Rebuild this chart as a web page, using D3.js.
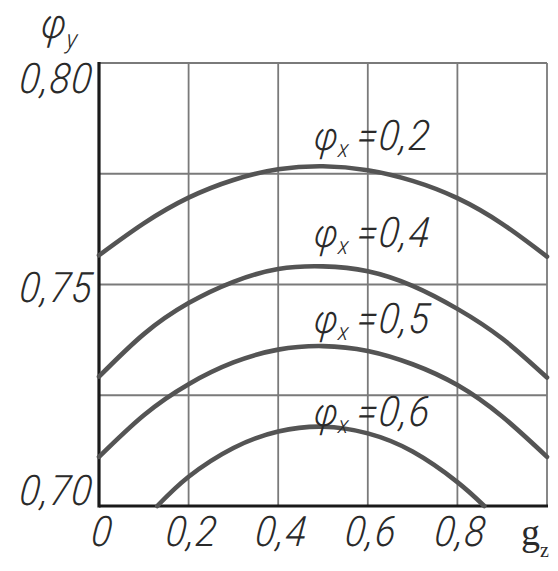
<!DOCTYPE html>
<html>
<head>
<meta charset="utf-8">
<script src="https://cdn.jsdelivr.net/npm/d3@7"></script>
<style>
  html, body { margin: 0; padding: 0; background: #fff; }
  svg { display: block; }
  .lbl { font-family: Roboto, "Liberation Sans Narrow", sans-serif; font-weight: 300; font-style: italic; fill: #2a2a2a; }
</style>
</head>
<body>
<svg id="chart" width="558" height="571"></svg>
<script>
// Relative load g (x axis)
const gValues = [0, 0.1, 0.2, 0.3, 0.4, 0.5, 0.6, 0.7, 0.8, 0.9, 1.0];
// phi_y for each phi_x
const phiX02 = [0.7566, 0.7638, 0.7696, 0.7736, 0.7760, 0.7767, 0.7758, 0.7734, 0.7695, 0.7637, 0.7563];
const phiX04 = [0.7292, 0.7388, 0.7458, 0.7506, 0.7535, 0.7541, 0.7530, 0.7497, 0.7445, 0.7378, 0.7290];
const phiX05 = [0.7111, 0.7205, 0.7275, 0.7324, 0.7353, 0.7361, 0.7350, 0.7320, 0.7273, 0.7202, 0.7111];
const gValues06 = [0.13, 0.2, 0.3, 0.4, 0.5, 0.6, 0.7, 0.8, 0.86];
const phiX06 = [0.700, 0.7066, 0.7131, 0.7168, 0.7179, 0.7164, 0.7123, 0.7054, 0.700];
const seriesNames = ["0,2", "0,4", "0,5", "0,6"];
const xTicks = [0, 0.2, 0.4, 0.6, 0.8];
const xTickLabels = ["0", "0,2", "0,4", "0,6", "0,8"];
const yTicks = [0.70, 0.75, 0.80];
const yTickLabels = ["0,70", "0,75", "0,80"];

const svg = d3.select("#chart");
const x = d3.scaleLinear().domain([0, 1]).range([99, 547]);
const y = d3.scaleLinear().domain([0.70, 0.80]).range([506, 63]);

// grid
const grid = svg.append("g").attr("stroke", "#7a7a7a").attr("stroke-width", 1.8);
grid.selectAll("line.v").data(d3.range(0.2, 1.01, 0.2)).join("line")
  .attr("x1", d => x(d)).attr("x2", d => x(d))
  .attr("y1", y(0.80)).attr("y2", y(0.70));
grid.selectAll("line.h").data([0.725, 0.75, 0.775, 0.80]).join("line")
  .attr("x1", x(0)).attr("x2", x(1))
  .attr("y1", d => y(d)).attr("y2", d => y(d));

// axes (thick lines)
svg.append("line").attr("x1", x(0)).attr("x2", x(0)).attr("y1", y(0.80) - 1).attr("y2", y(0.70) + 1.5)
  .attr("stroke", "#1a1a1a").attr("stroke-width", 3.2);
svg.append("line").attr("x1", x(0)).attr("x2", x(1) + 1).attr("y1", y(0.70)).attr("y2", y(0.70))
  .attr("stroke", "#1a1a1a").attr("stroke-width", 3.2);

// curves
const line = d3.line().x(d => x(d[0])).y(d => y(d[1])).curve(d3.curveNatural);
const series = [
  d3.zip(gValues, phiX02),
  d3.zip(gValues, phiX04),
  d3.zip(gValues, phiX05),
  d3.zip(gValues06, phiX06)
];
svg.append("g").selectAll("path").data(series).join("path")
  .attr("d", line).attr("fill", "none")
  .attr("stroke", "#545454").attr("stroke-width", 4.6).attr("stroke-linecap", "round");

// text helper: condensed slanted lettering
function label(txt, px, py, size, anchor) {
  const g = svg.append("g").attr("transform", `translate(${px},${py}) skewX(-6) scale(0.9,1)`);
  return g.append("text").attr("class", "lbl").attr("font-size", size)
    .attr("letter-spacing", 1.5)
    .attr("text-anchor", anchor || "start").text(txt);
}

// y tick labels
const yAnchor = { "0,80": 93, "0,75": 302, "0,70": 505 };
yTickLabels.forEach((t, i) => label(t, 92, yAnchor[t], 42, "end"));

// x tick labels
xTicks.forEach((v, i) => label(xTickLabels[i], x(v) + 2, 546, 42, "middle"));

// series labels
const labelBase = [150, 247, 333, 426];
seriesNames.forEach((n, i) => {
  const t = label("φ", 313, labelBase[i], 40, "start");
  t.append("tspan").attr("font-size", 24).attr("dy", 7).text("x");
  label("=" + n, 356, labelBase[i], 42, "start");
});

// axis titles
const yt = label("φ", 40, 38, 42, "start");
yt.append("tspan").attr("font-size", 26).attr("dy", 10).text("y");

const gx = svg.append("text").attr("x", 521).attr("y", 545)
  .attr("font-family", "'Liberation Serif', serif").attr("font-size", 38).attr("fill", "#2a2a2a").text("g");
gx.append("tspan").attr("font-size", 20).attr("dy", 12).text("z");
</script>
</body>
</html>
